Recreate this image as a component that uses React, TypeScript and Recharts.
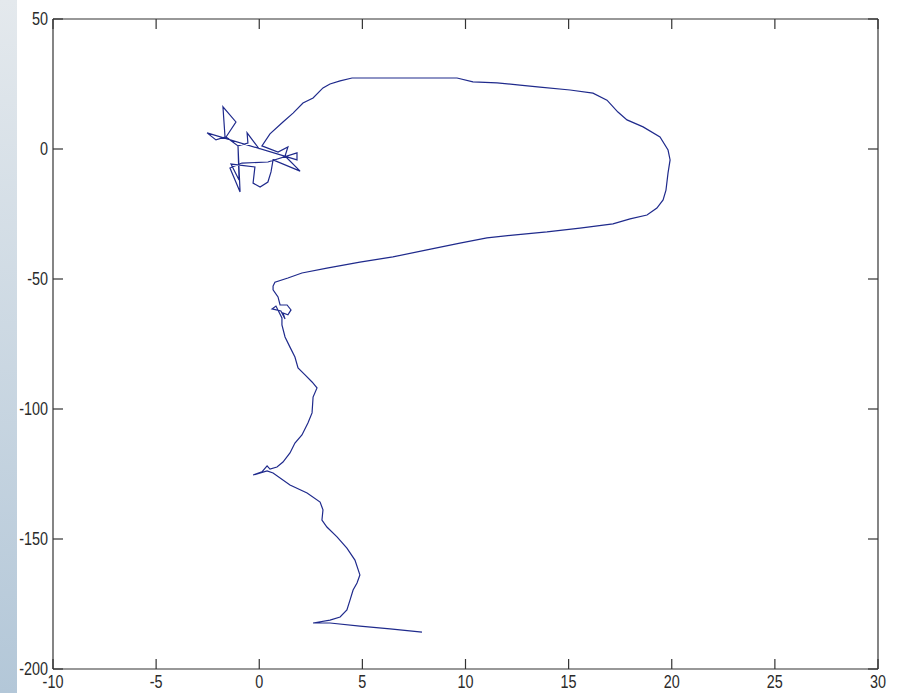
import React from "react";
import { LineChart, Line, XAxis, YAxis } from "recharts";

// trajectory in three pieces
const tangleX = [0.0, -0.59, -0.55, -1.03, -1.61, -1.13, -1.76, -1.66, -2.1, -2.53, 1.83, 1.83, 0.42, -0.84, -1.42, -0.93, -1.03, -0.98, -1.37, -0.21, -0.3, 0.04, 0.42, 0.57, 0.67, 1.98, 1.25, 1.39, 0.91, 0.13];
const tangleY = [0.0, 6.2, 2.3, 1.2, 4.6, 10.4, 16.2, 4.6, 3.5, 6.2, -4.2, -1.5, -5.0, -5.4, -7.3, -16.5, 1.2, -11.9, -5.8, -6.9, -13.1, -14.6, -12.7, -8.8, -4.2, -8.5, -2.7, 0.8, -1.2, 1.2];

const loopX = [0.52, 1.15, 1.64, 2.12, 2.61, 3.09, 3.43, 3.92, 4.5, 6.48, 9.59, 10.36, 11.53, 12.64, 13.61, 15.07, 16.18, 16.86, 17.39, 17.83, 18.61, 19.43, 19.82, 19.92, 19.82, 19.72, 19.58, 19.28, 18.8, 17.98, 17.15, 15.55, 13.95, 12.3, 11.04, 9.73, 8.13, 6.48, 4.88, 3.28, 2.07, 1.39];
const loopY = [5.8, 10.4, 13.8, 17.7, 19.6, 23.5, 25.0, 26.2, 27.3, 27.3, 27.3, 25.8, 25.4, 24.6, 23.8, 22.7, 21.5, 18.8, 14.2, 11.2, 8.5, 4.6, -0.4, -4.2, -9.2, -15.8, -19.6, -22.7, -25.4, -26.9, -28.8, -30.4, -31.9, -33.1, -34.2, -36.2, -38.8, -41.5, -43.5, -45.8, -47.7, -49.6];

const descentX = [0.76, 0.67, 0.67, 0.91, 1.01, 1.35, 1.54, 1.39, 1.15, 1.25, 1.05, 0.62, 0.81, 1.1, 1.1, 1.25, 1.49, 1.73, 1.88, 2.22, 2.56, 2.8, 2.61, 2.56, 2.36, 2.07, 1.73, 1.49, 1.15, 0.86, 0.52, 0.38, 0.13, -0.3, 0.38, 0.67, 1.49, 2.32, 2.95, 3.09, 3.04, 3.28, 3.77, 4.25, 4.64, 4.88, 4.74, 4.55, 4.4, 4.25, 3.92, 3.43, 2.61, 3.43, 4.88, 6.34, 7.89];
const descentY = [-51.2, -52.7, -54.2, -56.9, -60.0, -60.0, -61.9, -63.8, -63.1, -65.4, -62.3, -61.5, -60.4, -65.0, -67.7, -72.3, -76.2, -80.0, -84.2, -86.9, -89.6, -91.9, -95.4, -101.5, -105.4, -110.0, -113.1, -116.9, -120.4, -122.3, -123.1, -121.9, -124.2, -125.4, -123.8, -124.6, -129.2, -132.3, -135.8, -138.8, -142.7, -145.4, -149.2, -153.5, -158.1, -163.8, -166.9, -169.6, -173.5, -177.3, -180.0, -181.2, -182.3, -182.3, -183.5, -184.6, -185.8];

const xTicks = [-10, -5, 0, 5, 10, 15, 20, 25, 30];
const yTicks = [-200, -150, -100, -50, 0, 50];

const xs = [...tangleX, ...loopX, ...descentX];
const ys = [...tangleY, ...loopY, ...descentY];
const data = xs.map((x, i) => ({ x, y: ys[i] }));

const AXIS = "#333";
const TICK_LEN = 10;
const labelStyle = {
  fill: "#2a2a2a",
  fontSize: 18,
  fontFamily: "'Liberation Sans', Arial, sans-serif",
};

// matlab-like ticks: pointing into the box, narrow labels
const BottomTick = (p: any) => (
  <g>
    <line x1={p.x} x2={p.x} y1={p.y} y2={p.y - TICK_LEN} stroke={AXIS} strokeWidth={1.2} />
    <text
      transform={`translate(${p.x},${p.y + 19}) scale(0.8,1)`}
      textAnchor="middle"
      style={labelStyle}
    >
      {p.payload.value}
    </text>
  </g>
);

const LeftTick = (p: any) => (
  <g>
    <line x1={p.x} x2={p.x + TICK_LEN} y1={p.y} y2={p.y} stroke={AXIS} strokeWidth={1.2} />
    <text
      transform={`translate(${p.x - 5},${p.y + 6}) scale(0.8,1)`}
      textAnchor="end"
      style={labelStyle}
    >
      {p.payload.value}
    </text>
  </g>
);

const TopTick = (p: any) => {
  const cx = p.payload.coordinate;
  return <line x1={cx} x2={cx} y1={p.y} y2={p.y + TICK_LEN} stroke={AXIS} strokeWidth={1.2} />;
};

const RightTick = (p: any) => (
  <line x1={p.x} x2={p.x - TICK_LEN} y1={p.y} y2={p.y} stroke={AXIS} strokeWidth={1.2} />
);

export default function App() {
  return (
    <div
      style={{
        position: "absolute",
        left: 0,
        top: 0,
        width: 902,
        height: 693,
        background: "#fff",
      }}
    >
      <div
        style={{
          position: "absolute",
          left: 0,
          top: 0,
          width: 17,
          height: 693,
          background: "linear-gradient(to bottom, #e4e9ed, #b3c7d8)",
        }}
      />
      <LineChart
        width={902}
        height={693}
        data={data}
        margin={{ top: 18, right: 23, left: 13, bottom: 0 }}
      >
        <XAxis
          xAxisId="b"
          dataKey="x"
          type="number"
          domain={[-10, 30]}
          ticks={xTicks}
          interval={0}
          allowDataOverflow
          height={24}
          tickLine={false}
          tickSize={0}
          tickMargin={0}
          stroke={AXIS}
          strokeWidth={1.2}
          tick={BottomTick}
        />
        <XAxis
          xAxisId="t"
          dataKey="x"
          orientation="top"
          type="number"
          domain={[-10, 30]}
          ticks={xTicks}
          interval={0}
          allowDataOverflow
          height={1}
          tickLine={false}
          tickSize={0}
          tickMargin={0}
          stroke={AXIS}
          strokeWidth={1.2}
          tick={TopTick}
        />
        <YAxis
          yAxisId="l"
          type="number"
          domain={[-200, 50]}
          ticks={yTicks}
          interval={0}
          allowDataOverflow
          width={40}
          tickLine={false}
          tickSize={0}
          tickMargin={0}
          stroke={AXIS}
          strokeWidth={1.2}
          tick={LeftTick}
        />
        <YAxis
          yAxisId="r"
          orientation="right"
          type="number"
          domain={[-200, 50]}
          ticks={yTicks}
          interval={0}
          allowDataOverflow
          width={1}
          tickLine={false}
          tickSize={0}
          tickMargin={0}
          stroke={AXIS}
          strokeWidth={1.2}
          tick={RightTick}
        />
        <Line
          xAxisId="b"
          yAxisId="l"
          dataKey="y"
          type="linear"
          stroke="#1f2a8c"
          strokeWidth={1.2}
          dot={false}
          activeDot={false}
          isAnimationActive={false}
        />
      </LineChart>
    </div>
  );
}
